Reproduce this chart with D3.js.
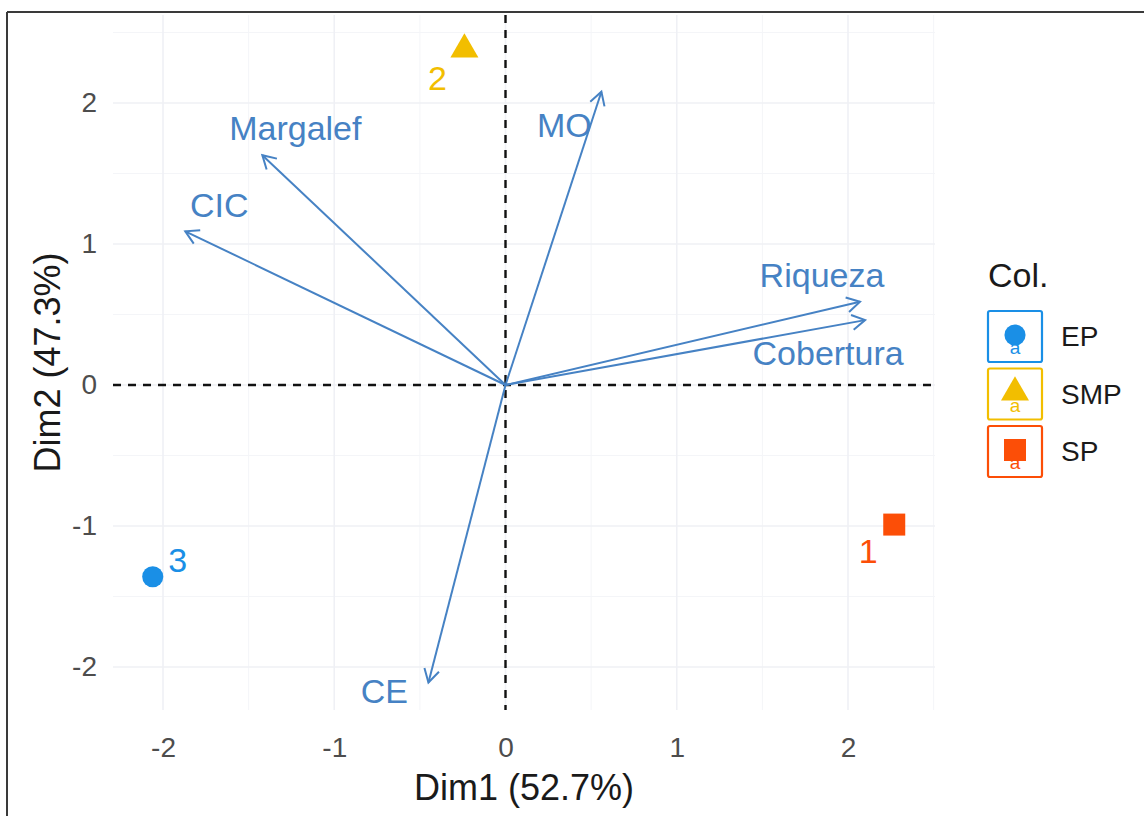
<!DOCTYPE html>
<html>
<head>
<meta charset="utf-8">
<script src="https://cdn.jsdelivr.net/npm/d3@7"></script>
<style>
  html, body { margin: 0; padding: 0; background: #fff; }
  svg { display: block; font-family: "Liberation Sans", Arial, sans-serif; }
</style>
</head>
<body>
<svg id="chart" width="1144" height="816"></svg>
<script>
// PCA biplot: individuals (sites) and variable loadings on Dim1 / Dim2

// Individuals
const pointIds     = ["1", "2", "3"];
const pointGroups  = ["SP", "SMP", "EP"];
const pointDim1    = [2.27, -0.24, -2.06];
const pointDim2    = [-0.99, 2.38, -1.36];

// Variables (arrow tips)
const varNames = ["MO", "Margalef", "CIC", "Riqueza", "Cobertura", "CE"];
const varDim1  = [0.56, -1.42, -1.87, 2.07, 2.10, -0.45];
const varDim2  = [2.08, 1.63, 1.09, 0.59, 0.46, -2.11];

// Groups / legend
const groupNames  = ["EP", "SMP", "SP"];
const groupColors = ["#1A8FE6", "#F2BE00", "#FC4E07"];
const groupShapes = ["circle", "triangle", "square"];

// Axis ticks and titles
const xTicks = [-2, -1, 0, 1, 2];
const yTicks = [-2, -1, 0, 1, 2];
const xTitle = "Dim1 (52.7%)";
const yTitle = "Dim2 (47.3%)";
const legendTitle = "Col.";

const svg = d3.select("#chart");
const panel = { left: 113, right: 935, top: 15, bottom: 710 };

const x = d3.scaleLinear().domain([-2.292, 2.508]).range([panel.left, panel.right]);
const y = d3.scaleLinear().domain([-2.305, 2.624]).range([panel.bottom, panel.top]);

const colorOf = d3.scaleOrdinal().domain(groupNames).range(groupColors);
const shapeOf = d3.scaleOrdinal().domain(groupNames).range(groupShapes);
const symbolType = { circle: d3.symbolCircle, triangle: d3.symbolTriangle, square: d3.symbolSquare };
const symbolSize = { circle: 350, triangle: 340, square: 484 };

const varColor = "#4682C4";
const tickFmt = d => String(d);   // plain hyphen-minus, as in R output

// Frame lines along top and left edges
svg.append("line").attr("x1", 7).attr("x2", 1144).attr("y1", 12).attr("y2", 12)
  .attr("stroke", "#3a3a3a").attr("stroke-width", 2);
svg.append("line").attr("x1", 7).attr("x2", 7).attr("y1", 12).attr("y2", 816)
  .attr("stroke", "#3a3a3a").attr("stroke-width", 2);

// Grid
const grid = svg.append("g");
const minorX = [-1.5, -0.5, 0.5, 1.5, 2.5];
const minorY = [-1.5, -0.5, 0.5, 1.5, 2.5];
grid.selectAll(".vminor").data(minorX).join("line")
  .attr("x1", d => x(d)).attr("x2", d => x(d)).attr("y1", panel.top).attr("y2", panel.bottom)
  .attr("stroke", "#F4F5F8").attr("stroke-width", 1);
grid.selectAll(".hminor").data(minorY).join("line")
  .attr("y1", d => y(d)).attr("y2", d => y(d)).attr("x1", panel.left).attr("x2", panel.right)
  .attr("stroke", "#F4F5F8").attr("stroke-width", 1);
grid.selectAll(".vmajor").data(xTicks).join("line")
  .attr("x1", d => x(d)).attr("x2", d => x(d)).attr("y1", panel.top).attr("y2", panel.bottom)
  .attr("stroke", "#EFF0F5").attr("stroke-width", 1.6);
grid.selectAll(".hmajor").data(yTicks).join("line")
  .attr("y1", d => y(d)).attr("y2", d => y(d)).attr("x1", panel.left).attr("x2", panel.right)
  .attr("stroke", "#EFF0F5").attr("stroke-width", 1.6);

// Axes (labels only)
const xAxis = svg.append("g").attr("transform", `translate(0,${panel.bottom})`)
  .call(d3.axisBottom(x).tickValues(xTicks).tickSize(0).tickPadding(27).tickFormat(tickFmt));
xAxis.select(".domain").remove();
xAxis.selectAll("text").attr("font-size", 28).attr("fill", "#4D4D4D")
  .attr("font-family", "Liberation Sans, Arial, sans-serif");

const yAxis = svg.append("g").attr("transform", `translate(${panel.left},0)`)
  .call(d3.axisLeft(y).tickValues(yTicks).tickSize(0).tickPadding(16).tickFormat(tickFmt));
yAxis.select(".domain").remove();
yAxis.selectAll("text").attr("font-size", 28).attr("fill", "#4D4D4D")
  .attr("font-family", "Liberation Sans, Arial, sans-serif");

// Axis titles
svg.append("text").attr("x", (panel.left + panel.right) / 2).attr("y", 800)
  .attr("text-anchor", "middle").attr("font-size", 36).attr("fill", "#1a1a1a").text(xTitle);
svg.append("text")
  .attr("transform", `translate(60,${(panel.top + panel.bottom) / 2}) rotate(-90)`)
  .attr("text-anchor", "middle").attr("font-size", 36).attr("fill", "#1a1a1a").text(yTitle);

// Reference lines through the origin
svg.append("line").attr("x1", x(0)).attr("x2", x(0)).attr("y1", panel.top).attr("y2", panel.bottom)
  .attr("stroke", "#111").attr("stroke-width", 2.4).attr("stroke-dasharray", "8,7");
svg.append("line").attr("y1", y(0)).attr("y2", y(0)).attr("x1", panel.left).attr("x2", panel.right)
  .attr("stroke", "#111").attr("stroke-width", 2.4).attr("stroke-dasharray", "8,7");

// Variable arrows
const vars = varNames.map((n, i) => ({ name: n, d1: varDim1[i], d2: varDim2[i] }));
const arrows = svg.append("g");
const headLen = 15, headAng = Math.PI / 6;
vars.forEach(v => {
  const x0 = x(0), y0 = y(0), x1 = x(v.d1), y1 = y(v.d2);
  const a = Math.atan2(y1 - y0, x1 - x0);
  arrows.append("line").attr("x1", x0).attr("y1", y0).attr("x2", x1).attr("y2", y1)
    .attr("stroke", varColor).attr("stroke-width", 2);
  const p = d3.path();
  p.moveTo(x1 - headLen * Math.cos(a - headAng), y1 - headLen * Math.sin(a - headAng));
  p.lineTo(x1, y1);
  p.lineTo(x1 - headLen * Math.cos(a + headAng), y1 - headLen * Math.sin(a + headAng));
  arrows.append("path").attr("d", p.toString()).attr("fill", "none")
    .attr("stroke", varColor).attr("stroke-width", 2);
});

// Variable labels, placed next to arrow tips
const varLabelOffset = {
  "MO": [-37, 45], "Margalef": [33, -15], "CIC": [34, -14],
  "Riqueza": [-38, -15], "Cobertura": [-37, 45], "CE": [-44, 20]
};
svg.append("g").selectAll("text").data(vars).join("text")
  .attr("x", d => x(d.d1) + varLabelOffset[d.name][0])
  .attr("y", d => y(d.d2) + varLabelOffset[d.name][1])
  .attr("text-anchor", "middle").attr("font-size", 34).attr("fill", varColor)
  .text(d => d.name);

// Individuals
const pts = pointIds.map((id, i) => ({ id, group: pointGroups[i], d1: pointDim1[i], d2: pointDim2[i] }));
svg.append("g").selectAll("path").data(pts).join("path")
  .attr("transform", d => `translate(${x(d.d1)},${y(d.d2)})`)
  .attr("d", d => d3.symbol().type(symbolType[shapeOf(d.group)]).size(symbolSize[shapeOf(d.group)])())
  .attr("fill", d => colorOf(d.group));

const pointLabelOffset = { "1": [-26, 38], "2": [-27, 41], "3": [25, -5] };
svg.append("g").selectAll("text").data(pts).join("text")
  .attr("x", d => x(d.d1) + pointLabelOffset[d.id][0])
  .attr("y", d => y(d.d2) + pointLabelOffset[d.id][1])
  .attr("text-anchor", "middle").attr("font-size", 34).attr("fill", d => colorOf(d.group))
  .text(d => d.id);

// Legend
const legend = svg.append("g").attr("transform", "translate(987,0)");
legend.append("text").attr("x", 1).attr("y", 287).attr("font-size", 34).attr("fill", "#1a1a1a")
  .text(legendTitle);
const keyH = 57.5;
const keys = legend.selectAll(".key").data(groupNames).join("g")
  .attr("transform", (d, i) => `translate(0,${310 + i * keyH})`);
keys.append("rect").attr("x", 1).attr("y", 1).attr("width", 54).attr("height", 51).attr("rx", 2)
  .attr("fill", "#fff").attr("stroke", d => colorOf(d)).attr("stroke-width", 2.2);
keys.append("text").attr("x", 28).attr("y", 44).attr("text-anchor", "middle")
  .attr("font-size", 19).attr("fill", d => colorOf(d)).text("a");
keys.append("path")
  .attr("transform", "translate(28,25)")
  .attr("d", d => d3.symbol().type(symbolType[shapeOf(d)]).size(symbolSize[shapeOf(d)])())
  .attr("fill", d => colorOf(d));
keys.append("text").attr("x", 74).attr("y", 36).attr("font-size", 28).attr("fill", "#1a1a1a")
  .text(d => d);
</script>
</body>
</html>
